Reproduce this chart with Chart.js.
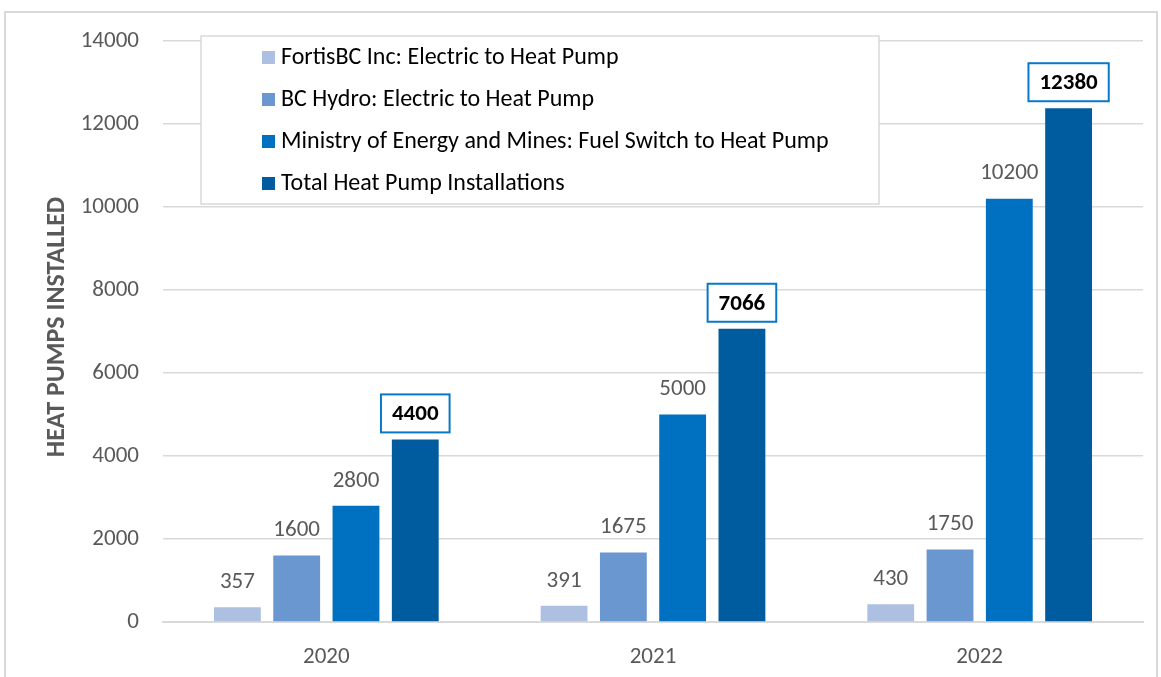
<!DOCTYPE html>
<html>
<head>
<meta charset="utf-8">
<script src="https://cdn.jsdelivr.net/npm/chart.js@4"></script>
<style>
  html, body { margin: 0; padding: 0; background: #fff; }
  #wrap { width: 1161px; height: 677px; position: relative; }
</style>
</head>
<body>
<div id="wrap"><canvas id="heatChart" width="1161" height="677"></canvas></div>
<script>
const years = ['2020', '2021', '2022'];
const seriesNames = [
    'FortisBC Inc: Electric to Heat Pump',
    'BC Hydro: Electric to Heat Pump',
    'Ministry of Energy and Mines: Fuel Switch to Heat Pump',
    'Total Heat Pump Installations'
];
const fortisValues = [357, 391, 430];
const hydroValues = [1600, 1675, 1750];
const ministryValues = [2800, 5000, 10200];
const totalValues = [4400, 7066, 12380];
const yTicks = [0, 2000, 4000, 6000, 8000, 10000, 12000, 14000];

const FONT = "'Liberation Sans Narrow', Carlito, Lato, sans-serif";
const GREY = '#595959';
const colors = ['#adc0e2', '#6a97d0', '#0070c0', '#005c9f'];
const allValues = [fortisValues, hydroValues, ministryValues, totalValues];

const labelPlugin = {
    id: 'labels',
    afterDatasetsDraw(chart) {
        const ctx = chart.ctx;
        ctx.save();
        ctx.textAlign = 'center';
        ctx.textBaseline = 'middle';
        chart.data.datasets.forEach((ds, di) => {
            const meta = chart.getDatasetMeta(di);
            meta.data.forEach((bar, i) => {
                const text = String(ds.data[i]);
                if (di < 3) {
                    ctx.font = '23px ' + FONT;
                    ctx.fillStyle = GREY;
                    ctx.fillText(text, bar.x, bar.y - 25);
                } else {
                    ctx.font = 'bold 23px ' + FONT;
                    const w = ctx.measureText(text).width + 22;
                    const h = 38;
                    const cy = bar.y - 7 - h / 2;
                    ctx.fillStyle = '#fff';
                    ctx.fillRect(bar.x - w / 2, cy - h / 2, w, h);
                    ctx.strokeStyle = '#0a78c8';
                    ctx.lineWidth = 2;
                    ctx.strokeRect(bar.x - w / 2, cy - h / 2, w, h);
                    ctx.fillStyle = '#000';
                    ctx.fillText(text, bar.x, cy + 1);
                }
            });
        });
        ctx.restore();
    },
    afterDraw(chart) {
        const ctx = chart.ctx;
        const area = chart.chartArea;
        ctx.save();
        // outer frame
        ctx.strokeStyle = '#d9d9d9';
        ctx.lineWidth = 2;
        ctx.strokeRect(5, 12, 1152, 700);

        // legend box
        ctx.fillStyle = '#fff';
        ctx.fillRect(201, 36, 678, 168);
        ctx.strokeStyle = '#d9d9d9';
        ctx.lineWidth = 1.5;
        ctx.strokeRect(201, 36, 678, 168);
        ctx.font = '24px ' + FONT;
        ctx.textAlign = 'left';
        ctx.textBaseline = 'middle';
        seriesNames.forEach((name, i) => {
            const y = 57 + i * 42;
            ctx.fillStyle = colors[i];
            ctx.fillRect(262, y - 6, 13, 13);
            ctx.fillStyle = '#000';
            ctx.fillText(name, 281, y + 1);
        });

        // y axis title
        ctx.translate(57, 327);
        ctx.rotate(-Math.PI / 2);
        ctx.textAlign = 'center';
        ctx.font = 'bold 26px ' + FONT;
        ctx.fillStyle = GREY;
        ctx.fillText('HEAT PUMPS INSTALLED', 0, 0);
        ctx.restore();
    }
};

new Chart(document.getElementById('heatChart'), {
    type: 'bar',
    data: {
        labels: years,
        datasets: seriesNames.map((name, i) => ({
            label: name,
            data: allValues[i],
            backgroundColor: colors[i],
            categoryPercentage: 0.726,
            barPercentage: 0.79
        }))
    },
    options: {
        responsive: false,
        animation: false,
        layout: { padding: { top: 41, right: 18, left: 0, bottom: 0 } },
        plugins: {
            legend: { display: false },
            tooltip: { enabled: false }
        },
        scales: {
            x: {
                grid: { display: false, drawTicks: false },
                border: { display: true, color: '#d9d9d9', width: 2 },
                ticks: { color: GREY, font: { family: FONT, size: 23 }, padding: 21 },
                afterFit(scale) { scale.height = 55; }
            },
            y: {
                min: 0,
                max: 14000,
                afterBuildTicks(scale) { scale.ticks = yTicks.map(v => ({ value: v })); },
                grid: { color: '#d9d9d9', lineWidth: 1.5, drawTicks: false },
                border: { display: false },
                ticks: {
                    color: GREY,
                    font: { family: FONT, size: 23 },
                    padding: 24,
                    callback: (v) => String(v)
                },
                afterFit(scale) { scale.width = 163; }
            }
        }
    },
    plugins: [labelPlugin]
});
</script>
</body>
</html>
